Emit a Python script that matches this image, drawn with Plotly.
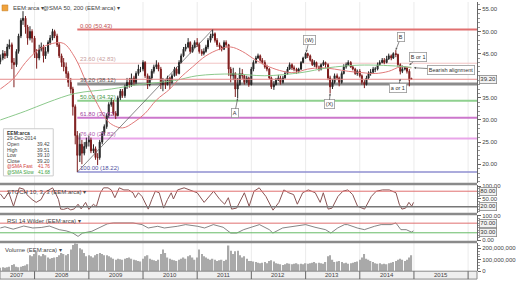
import plotly.graph_objects as go
import pandas as pd

# ---------------- data ----------------
# semi-monthly candles (1st / 15th), May-2007 .. Dec-2014
years = list(range(2007, 2015))
dates = [pd.Timestamp(y, m, d) for y in years for m in range(1, 13) for d in (1, 15)]
dates = [d for d in dates if pd.Timestamp(2007, 5, 15) <= d <= pd.Timestamp(2014, 12, 15)]

open_2007 = [43.2, 44.0, 45.0, 44.5, 46.5, 47.0, 43.0, 42.5, 45.5, 49.0, 52.5, 53.0, 51.0, 48.5, 50.0]
high_2007 = [44.8, 45.8, 45.6, 47.2, 48.2, 47.5, 44.0, 46.0, 49.5, 53.0, 54.6, 53.5, 51.5, 51.2, 50.5]
low_2007 = [42.6, 43.5, 43.8, 44.0, 46.0, 41.5, 37.4, 42.0, 45.0, 48.5, 51.5, 49.5, 47.0, 48.0, 47.5]
close_2007 = [44.0, 45.0, 44.5, 46.5, 47.0, 43.0, 42.5, 45.5, 49.0, 52.5, 53.0, 51.0, 48.5, 50.0, 48.5]

open_2008 = [48.5, 45.0, 44.0, 46.0, 46.5, 44.5, 45.5, 47.5, 48.5, 50.0, 49.0, 47.0, 44.5, 43.0, 42.0, 40.5, 38.5, 37.0, 33.0, 26.5, 22.0, 24.5, 22.5, 24.0]
high_2008 = [49.0, 46.0, 47.0, 47.5, 47.0, 46.5, 48.0, 49.2, 50.6, 50.4, 49.5, 47.5, 45.0, 44.0, 43.0, 41.0, 39.5, 37.5, 33.5, 27.5, 27.0, 25.5, 25.0, 26.0]
low_2008 = [44.0, 41.6, 43.5, 45.5, 43.0, 43.8, 45.0, 47.0, 48.0, 48.5, 46.5, 44.0, 42.0, 41.0, 39.5, 37.5, 36.0, 31.0, 24.5, 18.22, 20.5, 20.0, 22.0, 23.5]
close_2008 = [45.0, 44.0, 46.0, 46.5, 44.5, 45.5, 47.5, 48.5, 50.0, 49.0, 47.0, 44.5, 43.0, 42.0, 40.5, 38.5, 37.0, 33.0, 26.5, 22.0, 24.5, 22.5, 24.0, 25.0]

open_2009 = [25.0, 25.5, 23.0, 23.5, 21.5, 21.5, 25.0, 27.0, 28.5, 31.0, 33.5, 34.0, 31.5, 31.0, 35.0, 36.5, 35.5, 37.5, 38.5, 38.0, 39.5, 38.5, 40.5, 41.5]
high_2009 = [26.5, 26.0, 24.5, 24.0, 22.5, 25.5, 27.5, 29.0, 31.5, 34.0, 35.0, 34.5, 32.0, 35.5, 37.0, 37.0, 38.0, 39.5, 39.5, 40.5, 40.0, 41.0, 42.5, 42.0]
low_2009 = [24.0, 22.5, 22.5, 21.0, 19.8, 21.0, 24.5, 26.5, 28.0, 30.5, 33.0, 31.0, 30.2, 30.8, 34.5, 35.0, 35.0, 37.0, 37.3, 37.5, 37.8, 38.0, 40.0, 40.8]
close_2009 = [25.5, 23.0, 23.5, 21.5, 21.5, 25.0, 27.0, 28.5, 31.0, 33.5, 34.0, 31.5, 31.0, 35.0, 36.5, 35.5, 37.5, 38.5, 38.0, 39.5, 38.5, 40.5, 41.5, 41.5]

open_2010 = [41.5, 43.0, 40.0, 38.0, 39.5, 41.0, 42.0, 42.5, 41.5, 38.0, 38.5, 38.0, 39.5, 38.5, 40.0, 41.5, 40.5, 43.0, 44.5, 46.0, 46.5, 47.5, 45.5, 46.5]
high_2010 = [43.5, 43.3, 40.5, 40.0, 41.5, 42.5, 43.5, 43.0, 42.0, 39.5, 39.0, 40.0, 39.8, 40.5, 42.0, 42.0, 43.5, 45.0, 46.5, 47.2, 48.5, 47.8, 47.0, 48.0]
low_2010 = [41.0, 39.5, 37.0, 37.6, 39.0, 40.5, 41.5, 41.0, 37.0, 36.5, 37.0, 37.8, 37.0, 38.2, 39.8, 40.0, 40.3, 42.8, 44.2, 45.5, 46.2, 45.0, 45.2, 46.3]
close_2010 = [43.0, 40.0, 38.0, 39.5, 41.0, 42.0, 42.5, 41.5, 38.0, 38.5, 38.0, 39.5, 38.5, 40.0, 41.5, 40.5, 43.0, 44.5, 46.0, 46.5, 47.5, 45.5, 46.5, 47.5]

open_2011 = [47.5, 47.0, 45.5, 45.0, 45.5, 46.5, 48.0, 49.0, 49.5, 48.0, 47.0, 46.5, 46.0, 47.5, 47.0, 41.5, 40.0, 40.5, 37.0, 38.0, 40.5, 40.0, 38.5, 39.5]
high_2011 = [48.5, 47.5, 46.0, 46.2, 47.0, 48.5, 49.5, 50.43, 49.8, 48.5, 47.5, 46.8, 48.0, 48.0, 47.2, 42.0, 41.8, 40.8, 39.5, 41.8, 41.5, 40.3, 40.0, 39.8]
low_2011 = [46.5, 45.0, 44.5, 44.6, 45.2, 46.0, 47.5, 48.5, 47.5, 46.5, 45.8, 45.5, 45.8, 46.5, 40.0, 38.5, 39.0, 35.2, 34.9, 37.8, 39.3, 38.0, 38.3, 37.5]
close_2011 = [47.0, 45.5, 45.0, 45.5, 46.5, 48.0, 49.0, 49.5, 48.0, 47.0, 46.5, 46.0, 47.5, 47.0, 41.5, 40.0, 40.5, 37.0, 38.0, 40.5, 40.0, 38.5, 39.5, 38.0]

open_2012 = [38.0, 41.5, 43.0, 44.0, 44.5, 43.5, 43.0, 42.0, 41.5, 39.5, 37.5, 38.0, 39.0, 39.5, 38.5, 39.5, 40.5, 41.5, 42.5, 41.8, 41.5, 41.0, 41.5, 43.0]
high_2012 = [42.0, 43.5, 44.5, 45.0, 44.8, 44.0, 43.5, 42.5, 41.8, 39.8, 38.8, 39.5, 40.2, 40.0, 40.0, 41.0, 42.0, 43.0, 42.8, 42.3, 41.8, 41.8, 43.3, 44.3]
low_2012 = [37.8, 41.0, 42.7, 43.8, 43.2, 42.6, 41.6, 41.0, 39.2, 37.0, 36.8, 37.8, 38.8, 38.0, 38.2, 39.3, 40.2, 41.3, 41.3, 41.0, 40.4, 40.6, 41.3, 42.8]
close_2012 = [41.5, 43.0, 44.0, 44.5, 43.5, 43.0, 42.0, 41.5, 39.5, 37.5, 38.0, 39.0, 39.5, 38.5, 39.5, 40.5, 41.5, 42.5, 41.8, 41.5, 41.0, 41.5, 43.0, 44.0]

open_2013 = [44.0, 45.0, 44.5, 43.5, 42.5, 43.0, 42.0, 41.5, 42.5, 43.0, 42.5, 39.5, 37.5, 38.5, 40.0, 39.5, 38.5, 40.5, 42.0, 42.5, 43.0, 42.0, 41.5, 40.5]
high_2013 = [45.3, 45.2, 44.8, 43.8, 43.5, 43.2, 42.3, 42.8, 43.5, 43.2, 42.8, 40.0, 39.3, 40.5, 40.5, 39.8, 41.0, 42.6, 43.0, 43.5, 43.3, 42.3, 41.8, 41.4]
low_2013 = [43.8, 44.0, 43.2, 42.2, 42.0, 41.6, 41.0, 41.2, 42.2, 41.8, 39.0, 36.0, 37.0, 38.2, 39.0, 37.6, 38.2, 40.3, 41.6, 42.2, 41.8, 41.2, 40.2, 40.0]
close_2013 = [45.0, 44.5, 43.5, 42.5, 43.0, 42.0, 41.5, 42.5, 43.0, 42.5, 39.5, 37.5, 38.5, 40.0, 39.5, 38.5, 40.5, 42.0, 42.5, 43.0, 42.0, 41.5, 40.5, 41.0]

open_2014 = [41.0, 40.0, 38.5, 38.0, 39.5, 40.5, 40.8, 41.5, 41.5, 42.5, 43.0, 43.5, 43.0, 43.8, 44.5, 44.0, 45.0, 44.8, 42.5, 41.0, 41.5, 41.8, 41.0, 39.42]
high_2014 = [41.5, 40.3, 39.0, 40.0, 41.0, 41.5, 42.0, 42.0, 43.0, 43.5, 44.0, 44.0, 44.5, 45.0, 44.8, 45.3, 45.8, 45.0, 42.8, 42.3, 42.2, 42.0, 41.5, 39.51]
low_2014 = [39.6, 38.0, 37.2, 37.8, 39.2, 40.0, 40.5, 40.8, 41.2, 42.3, 42.8, 42.6, 42.8, 43.6, 43.5, 43.8, 44.2, 42.0, 40.3, 40.6, 41.2, 40.5, 37.6, 39.10]
close_2014 = [40.0, 38.5, 38.0, 39.5, 40.5, 40.8, 41.5, 41.5, 42.5, 43.0, 43.5, 43.0, 43.8, 44.5, 44.0, 45.0, 44.8, 42.5, 41.0, 41.5, 41.8, 41.0, 39.0, 39.20]

# volume, millions per period
vol_2007 = [30, 35, 30, 35, 40, 55, 60, 40, 35, 40, 45, 50, 60, 140, 130]
vol_2008 = [150, 170, 140, 130, 150, 140, 120, 110, 115, 120, 125, 140, 160, 150, 140, 150, 190, 230, 245, 240, 200, 190, 160, 130]
vol_2009 = [140, 130, 120, 140, 150, 160, 150, 140, 140, 130, 120, 110, 100, 110, 105, 100, 110, 115, 120, 110, 100, 95, 90, 85]
vol_2010 = [110, 130, 140, 110, 100, 95, 90, 100, 150, 190, 160, 120, 110, 100, 95, 90, 100, 110, 120, 110, 130, 140, 120, 100]
vol_2011 = [120, 190, 150, 130, 120, 110, 100, 110, 100, 90, 95, 100, 90, 100, 225, 180, 150, 175, 180, 140, 120, 130, 110, 90]
vol_2012 = [90, 85, 80, 75, 70, 75, 80, 70, 90, 95, 85, 70, 65, 60, 55, 60, 70, 65, 60, 65, 70, 60, 65, 60]
vol_2013 = [70, 65, 70, 75, 80, 70, 75, 70, 65, 80, 130, 140, 100, 80, 85, 90, 80, 70, 75, 65, 70, 75, 80, 85]
vol_2014 = [100, 120, 150, 110, 100, 90, 80, 70, 65, 70, 60, 65, 60, 70, 75, 80, 90, 100, 110, 100, 90, 100, 120, 140]

open_ = open_2007 + open_2008 + open_2009 + open_2010 + open_2011 + open_2012 + open_2013 + open_2014
high_ = high_2007 + high_2008 + high_2009 + high_2010 + high_2011 + high_2012 + high_2013 + high_2014
low_ = low_2007 + low_2008 + low_2009 + low_2010 + low_2011 + low_2012 + low_2013 + low_2014
close_ = close_2007 + close_2008 + close_2009 + close_2010 + close_2011 + close_2012 + close_2013 + close_2014
volume = vol_2007 + vol_2008 + vol_2009 + vol_2010 + vol_2011 + vol_2012 + vol_2013 + vol_2014

# SMA 50 (fast, red) and SMA 200 (slow, green)
sma_fast_dates = ["2007-05-15", "2007-08-15", "2007-11-01", "2008-02-01", "2008-05-01", "2008-07-15", "2008-10-01",
                  "2008-12-15", "2009-03-01", "2009-05-15", "2009-08-15", "2009-11-01", "2010-01-15", "2010-04-01",
                  "2010-07-01", "2010-09-01", "2010-12-01", "2011-03-01", "2011-06-01", "2011-08-15", "2011-11-01",
                  "2012-02-01", "2012-05-01", "2012-08-01", "2012-10-15", "2013-01-15", "2013-04-15", "2013-07-15",
                  "2013-10-15", "2014-01-15", "2014-04-15", "2014-07-15", "2014-10-01", "2014-12-15"]
sma_fast = [37.0, 39.5, 43.0, 46.0, 47.3, 47.3, 44.0, 38.5, 33.5, 29.5, 28.2, 29.5, 31.5, 34.5, 37.0, 39.3, 42.0,
            44.5, 46.0, 46.5, 45.5, 43.5, 42.0, 41.0, 40.7, 41.5, 41.8, 41.5, 41.0, 40.7, 40.5, 41.0, 42.0, 41.76]
sma_slow_dates = ["2007-05-15", "2007-11-01", "2008-04-01", "2008-10-01", "2009-06-01", "2009-12-01", "2010-08-01",
                  "2011-01-01", "2011-09-01", "2012-04-01", "2012-12-01", "2013-06-01", "2014-01-01", "2014-09-01",
                  "2014-12-15"]
sma_slow = [30.0, 32.0, 34.0, 36.0, 37.0, 38.0, 38.9, 40.0, 40.4, 40.0, 40.7, 41.8, 42.4, 42.2, 41.9]

stoch_dates = ["2007-05-15", "2007-06-10", "2007-07-10", "2007-08-12", "2007-09-20", "2007-10-20", "2007-11-10",
               "2007-12-15", "2008-01-12", "2008-02-14", "2008-03-08", "2008-04-10", "2008-05-01", "2008-05-20",
               "2008-06-10", "2008-06-25", "2008-07-15", "2008-08-10", "2008-09-01", "2008-09-25", "2008-10-20",
               "2008-11-10", "2008-12-10", "2009-01-01", "2009-02-01", "2009-02-20", "2009-03-20", "2009-04-10",
               "2009-05-10", "2009-06-01", "2009-06-25", "2009-07-25", "2009-08-25", "2009-09-25", "2009-10-25",
               "2009-11-10", "2009-12-01", "2009-12-25", "2010-02-05", "2010-03-01", "2010-03-25", "2010-04-20",
               "2010-05-20", "2010-06-15", "2010-07-10", "2010-07-25", "2010-08-22", "2010-10-05", "2010-11-17",
               "2011-01-01", "2011-02-17", "2011-03-20", "2011-04-22", "2011-06-03", "2011-07-05", "2011-07-30",
               "2011-08-21", "2011-09-24", "2011-10-26", "2011-11-15", "2011-12-17", "2012-01-19", "2012-02-23",
               "2012-04-08", "2012-05-26", "2012-07-05", "2012-08-07", "2012-09-09", "2012-10-12", "2012-11-06",
               "2012-12-12", "2013-01-19", "2013-03-07", "2013-04-09", "2013-04-30", "2013-06-02", "2013-06-28",
               "2013-08-07", "2013-09-09", "2013-10-12", "2013-11-14", "2013-12-17", "2014-02-02", "2014-03-20",
               "2014-04-22", "2014-06-03", "2014-07-19", "2014-09-02", "2014-09-24", "2014-10-12", "2014-11-06",
               "2014-11-28", "2014-12-17", "2014-12-29"]
stoch = [70, 50, 76, 22, 93, 88, 67, 48, 37, 48, 74, 85, 93, 74, 48, 11, 10, 15, 8, 12, 30, 12, 37, 10, 30, 20, 74,
         93, 93, 85, 55, 93, 85, 85, 74, 55, 74, 60, 11, 48, 80, 74, 15, 48, 74, 50, 85, 93, 85, 74, 37, 60, 80, 48,
         30, 55, 11, 15, 55, 74, 22, 80, 93, 60, 7, 37, 85, 74, 67, 30, 74, 85, 74, 37, 74, 11, 15, 60, 80, 85, 67,
         22, 11, 60, 80, 85, 85, 74, 30, 11, 15, 37, 22, 37]

rsi_dates = ["2007-05-15", "2007-06-15", "2007-08-10", "2007-10-20", "2007-12-20", "2008-02-15", "2008-04-10",
             "2008-06-15", "2008-08-01", "2008-09-15", "2008-10-20", "2008-11-20", "2009-01-20", "2009-03-20",
             "2009-05-05", "2009-06-15", "2009-08-01", "2009-10-25", "2009-12-25", "2010-02-05", "2010-04-10",
             "2010-05-25", "2010-08-20", "2010-10-15", "2011-01-05", "2011-02-20", "2011-04-20", "2011-06-25",
             "2011-08-15", "2011-09-25", "2011-11-10", "2012-01-15", "2012-02-25", "2012-05-01", "2012-05-25",
             "2012-07-30", "2012-10-05", "2013-01-01", "2013-03-05", "2013-05-15", "2013-06-20", "2013-08-05",
             "2013-09-20", "2013-10-10", "2013-12-15", "2014-02-01", "2014-04-10", "2014-05-25", "2014-08-01",
             "2014-09-01", "2014-10-05", "2014-11-10", "2014-12-15", "2014-12-29"]
rsi = [50, 55, 45, 58, 50, 52, 58, 43, 38, 29, 15, 29, 36, 53, 67, 71, 70, 71, 64, 50, 57, 50, 57, 64, 57, 50, 64,
       53, 29, 29, 43, 57, 64, 43, 29, 50, 57, 64, 53, 43, 29, 50, 64, 64, 50, 43, 57, 64, 64, 71, 43, 43, 33, 38]

# Fibonacci retracement (Oct-2008 low -> Apr-2011 high)
fib_anchor_dates = ["2008-10-15", "2011-04-15"]
fib_anchor_prices = [18.22, 50.43]
fib_ratios = ["0.00", "23.60", "38.20", "50.00", "61.80", "76.40", "100.00"]
fib_levels = [50.43, 42.83, 38.12, 34.32, 30.52, 25.82, 18.22]

last_price = 39.20
info_rows = [("Open", "39.42"), ("High", "39.51"), ("Low", "39.10"), ("Close", "39.20")]
sma_info = [("@SMA Fast", "41.76"), ("@SMA Slow", "41.68")]

price_ticks = [15, 20, 25, 30, 35, 45, 50, 55]
year_labels = ["2007", "2008", "2009", "2010", "2011", "2012", "2013", "2014", "2015"]

# callouts: text, anchor date, anchor price, text offset (px)
callouts = [("A", "2011-10-01", 34.9, -3, 15), ("(W)", "2013-01-05", 45.3, 3, -12),
            ("(X)", "2013-06-15", 36.0, -1, 11), ("B", "2014-09-01", 45.8, 5, -13),
            ("B or 1", "2014-12-01", 42.4, 9, -8), ("a or 1", "2014-10-01", 39.3, -2, 9),
            ("Bearish alignment", "2015-01-01", 41.8, 37, 2)]

# ---------------- layout helpers ----------------
W, H = 516, 286
PW = 484  # plot area width
X0, X1 = "2007-05-13", "2016-03-01"
FONT = "Liberation Sans"


def py(p):  # pixel row -> paper y
    return 1 - p / H


def px(p):  # pixel col -> paper x
    return p / PW


fig = go.Figure()

fig.add_trace(go.Candlestick(
    x=dates, open=open_, high=high_, low=low_, close=close_,
    increasing=dict(line=dict(color="#262626", width=1), fillcolor="#262626"),
    decreasing=dict(line=dict(color="#7d1b1b", width=1), fillcolor="#7d1b1b"),
    whiskerwidth=0, xaxis="x", yaxis="y", showlegend=False, hoverinfo="skip"))

fig.add_trace(go.Scatter(x=sma_fast_dates, y=sma_fast, mode="lines", line=dict(color="#e07a7a", width=1, shape="spline"),
                         xaxis="x", yaxis="y", showlegend=False))
fig.add_trace(go.Scatter(x=sma_slow_dates, y=sma_slow, mode="lines", line=dict(color="#8cc98c", width=1, shape="spline"),
                         xaxis="x", yaxis="y", showlegend=False))
fig.add_trace(go.Scatter(x=fib_anchor_dates, y=fib_anchor_prices, mode="lines", line=dict(color="#555555", width=0.7),
                         xaxis="x", yaxis="y", showlegend=False))

fig.add_trace(go.Scatter(x=stoch_dates, y=stoch, mode="lines", line=dict(color="#8a5555", width=1),
                         xaxis="x", yaxis="y2", showlegend=False))
fig.add_trace(go.Scatter(x=rsi_dates, y=rsi, mode="lines", line=dict(color="#666666", width=0.8),
                         xaxis="x", yaxis="y3", showlegend=False))
fig.add_trace(go.Bar(x=dates, y=volume, marker=dict(color="#a9a9a9", line=dict(width=0)),
                     xaxis="x", yaxis="y4", showlegend=False))

shapes = []
# vertical year gridlines
for y in range(2008, 2017):
    shapes.append(dict(type="line", xref="x", yref="paper", x0=f"{y}-01-01", x1=f"{y}-01-01",
                       y0=py(274), y1=1, line=dict(color="#ebebeb", width=1), layer="below"))

# fib lines
fib_colors = ["#e07070", "#f2c4c4", "#8c8c8c", "#8fd08f", "#cc77cc", "#e9a6e9", "#8f8fd0"]
fib_text_colors = ["#c05050", "#c8a0a0", "#555555", "#4a9a4a", "#a040a0", "#b060b0", "#5050a0"]
fib_widths = [2, 1, 3, 2, 2, 2, 1.5]
for lvl, c, w in zip(fib_levels, fib_colors, fib_widths):
    shapes.append(dict(type="line", xref="x", yref="y", x0=fib_anchor_dates[0], x1=X1, y0=lvl, y1=lvl,
                       line=dict(color=c, width=w), layer="below"))

# last price line
shapes.append(dict(type="line", xref="paper", yref="y", x0=0, x1=1, y0=last_price, y1=last_price,
                   line=dict(color="#e58c8c", width=1)))

# indicator reference lines
shapes.append(dict(type="line", xref="paper", yref="y2", x0=0, x1=1, y0=80, y1=80, line=dict(color="#e07070", width=1)))
shapes.append(dict(type="line", xref="paper", yref="y2", x0=0, x1=1, y0=20, y1=20, line=dict(color="#777777", width=1.5)))
shapes.append(dict(type="line", xref="paper", yref="y3", x0=0, x1=1, y0=70, y1=70, line=dict(color="#e07070", width=1)))
shapes.append(dict(type="line", xref="paper", yref="y3", x0=0, x1=1, y0=30, y1=30, line=dict(color="#66bb66", width=1)))

# panel separators
for top in (184, 214.5, 243):
    shapes.append(dict(type="rect", xref="paper", yref="paper", x0=0, x1=1, y0=py(top + 2.5), y1=py(top),
                       fillcolor="#8a8a8a", line=dict(width=0)))
# x-axis band
shapes.append(dict(type="rect", xref="paper", yref="paper", x0=0, x1=1, y0=py(282), y1=py(274),
                   fillcolor="#efefef", line=dict(color="#8a8a8a", width=1)))
for y in range(2008, 2017):
    shapes.append(dict(type="line", xref="x", yref="paper", x0=f"{y}-01-01", x1=f"{y}-01-01",
                       y0=py(282), y1=py(274), line=dict(color="#666666", width=1)))
# header icon
shapes.append(dict(type="rect", xref="paper", yref="paper", x0=px(2), x1=px(8), y0=py(9), y1=py(3),
                   fillcolor="#f0a23c", line=dict(color="#c07a20", width=0.5)))
# info box
shapes.append(dict(type="rect", xref="paper", yref="paper", x0=px(3.5), x1=px(54), y0=py(177), y1=py(129),
                   fillcolor="rgba(255,255,255,0.9)", line=dict(color="#cccccc", width=1)))

ann = []
f6 = dict(family=FONT, size=6, color="#444444")


def txt(x, y, t, color="#444444", anchor="left", size=6, **kw):
    ann.append(dict(xref="paper", yref="paper", x=px(x), y=py(y), text=t, showarrow=False,
                    xanchor=anchor, yanchor="middle", font=dict(family=FONT, size=size, color=color), **kw))


txt(11, 6, "EEM:arca ▾")
txt(42, 6, "@SMA 50, 200 (EEM:arca) ▾")
txt(5, 193, "STOCH 10, 3, 3 (EEM:arca) ▾")
txt(5, 223, "RSI 14 Wilder (EEM:arca) ▾")
txt(3, 252, "Volume (EEM:arca) ▾")

# info box text
txt(5.5, 133, "<b>EEM:arca</b>", color="#333333", size=5)
txt(5.5, 138.8, "29-Dec-2014", size=5)
ry = 144.6
for lab, val in info_rows:
    txt(5.5, ry, lab, size=5)
    txt(52.5, ry, val, anchor="right", size=5)
    ry += 5.8
for (lab, val), col in zip(sma_info, ["#d04040", "#40a040"]):
    txt(5.5, ry, lab, color=col, size=4.8)
    txt(52.5, ry, val, color=col, anchor="right", size=4.8)
    ry += 5.8

# fib labels
for r, lvl, c in zip(fib_ratios, fib_levels, fib_text_colors):
    ann.append(dict(xref="x", yref="y", x=fib_anchor_dates[0], y=lvl, text=f"{r} ({lvl:.2f})", showarrow=False,
                    xanchor="left", yanchor="bottom", xshift=1, yshift=-1,
                    font=dict(family=FONT, size=6, color=c)))

# callouts
for t, d, p, ax, ay in callouts:
    ann.append(dict(xref="x", yref="y", x=d, y=p, text=t, showarrow=True, ax=ax, ay=ay,
                    arrowhead=2, arrowsize=0.6, arrowwidth=0.7, arrowcolor="#555555",
                    bordercolor="#999999", borderwidth=0.8, borderpad=1, bgcolor="#ffffff",
                    font=dict(family=FONT, size=5.5, color="#333333")))

# boxed axis values
for yref, v, t in [("y", last_price, "39.20"), ("y2", 80, "80.00"), ("y2", 20, "20.00"),
                   ("y3", 70, "70.00"), ("y3", 30, "30.00")]:
    ann.append(dict(xref="paper", yref=yref, x=px(486), y=v, text=t, showarrow=False, xanchor="left",
                    yanchor="middle", bordercolor="#888888", borderwidth=0.8, borderpad=0.5, bgcolor="#f2f2f2",
                    font=dict(family=FONT, size=6, color="#333333")))

# year labels in the bottom band (mid-year; first one mid visible part)
year_pos = ["2007-09-07"] + [f"{y}-07-01" for y in range(2008, 2016)]
for pos, lab in zip(year_pos, year_labels):
    ann.append(dict(xref="x", yref="paper", x=pos, y=py(278), text=lab, showarrow=False,
                    xanchor="center", yanchor="middle", font=dict(family=FONT, size=6, color="#444444")))

axis_common = dict(side="right", anchor="x", showgrid=False, zeroline=False, showline=True, linecolor="#666666",
                   ticks="outside", ticklen=3, tickcolor="#666666", tickfont=f6, fixedrange=True)

fig.update_layout(
    width=W, height=H, margin=dict(l=0, r=W - PW, t=0, b=0),
    paper_bgcolor="#ffffff", plot_bgcolor="#ffffff", showlegend=False, bargap=0.35,
    xaxis=dict(domain=[0, 1], range=[X0, X1], type="date", anchor="y4", rangeslider=dict(visible=False),
               showgrid=False, zeroline=False, showline=False, ticks="", showticklabels=False,
               automargin=False),
    yaxis=dict(domain=[py(184), 1], range=[15.8, 56.67], tickvals=price_ticks,
               ticktext=[f"{v:.2f}" for v in price_ticks],
               minor=dict(dtick=1, ticks="outside", ticklen=2, tickcolor="#999999"), **axis_common),
    yaxis2=dict(domain=[py(214.5), py(186.5)], range=[-3, 103], tickvals=[50, 100], ticktext=["50.00", "100.00"],
                minor=dict(dtick=10, ticks="outside", ticklen=2, tickcolor="#999999"), **axis_common),
    yaxis3=dict(domain=[py(243), py(217)], range=[-3, 103], tickvals=[0, 100], ticktext=["0.00", "100.00"],
                minor=dict(dtick=10, ticks="outside", ticklen=2, tickcolor="#999999"), **axis_common),
    yaxis4=dict(domain=[py(274), py(245.5)], range=[0, 245], tickvals=[0, 100, 200],
                ticktext=["0", "100,000,000", "200,000,000"],
                minor=dict(dtick=25, ticks="outside", ticklen=2, tickcolor="#999999"), **axis_common),
    shapes=shapes, annotations=ann,
)

fig.write_html("out.html")
